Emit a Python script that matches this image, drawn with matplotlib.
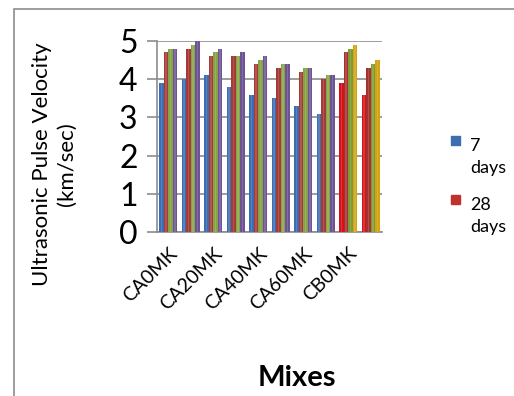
import numpy as np
import matplotlib
matplotlib.use('Agg')
import matplotlib.pyplot as plt
from matplotlib.patches import Rectangle

plt.rcParams['font.family'] = ['Lato', 'DejaVu Sans']

# Ultrasonic pulse velocity (km/sec) per mix and curing age
mixes = ['CA0MK', 'CA10MK', 'CA20MK', 'CA30MK', 'CA40MK',
         'CA50MK', 'CA60MK', 'CA70MK', 'CB0MK', 'CB20MK']
ages = ['7 days', '28 days', '56 days', '90 days']
upv_7 = [3.9, 4.0, 4.1, 3.8, 3.6, 3.5, 3.3, 3.1, 3.9, 3.6]
upv_28 = [4.7, 4.8, 4.6, 4.6, 4.4, 4.3, 4.2, 4.0, 4.7, 4.3]
upv_56 = [4.8, 4.9, 4.7, 4.6, 4.5, 4.4, 4.3, 4.1, 4.8, 4.4]
upv_90 = [4.8, 5.0, 4.8, 4.7, 4.6, 4.4, 4.3, 4.1, 4.9, 4.5]
series = [upv_7, upv_28, upv_56, upv_90]

ca_colors = ['#3b6db0', '#a33a37', '#86a446', '#6b5394']
cb_colors = ['#d3121b', '#a5302e', '#7d9a33', '#d2a312']

fig = plt.figure(figsize=(5.14, 3.96), dpi=100)
ax = fig.add_axes([0.3054, 0.4141, 0.4377, 0.4823])

x = np.arange(len(mixes))
width = 0.2
for i, vals in enumerate(series):
    colors = [cb_colors[i] if m.startswith('CB') else ca_colors[i] for m in mixes]
    pos = x + (i - 1.5) * width
    ax.bar(pos, vals, width * 1.02, color=colors, zorder=3)
    # lighter highlight down the middle of each bar
    ax.bar(pos, vals, width * 0.35, color='white', alpha=0.15, zorder=4)

ax.set_xlim(-0.5, len(mixes) - 0.5)
ax.set_ylim(0, 5)
ax.set_yticks(range(0, 6))
ax.yaxis.grid(True, color='#8c8c8c', lw=1.2, zorder=0)
ax.set_axisbelow(True)
for s in ['top', 'right']:
    ax.spines[s].set_visible(False)
for s in ['left', 'bottom']:
    ax.spines[s].set_color('#8c8c8c')
    ax.spines[s].set_linewidth(1.2)
ax.tick_params(axis='y', length=7, width=1.2, color='#8c8c8c', pad=7, labelsize=23)
ax.tick_params(axis='x', length=0, pad=9)

ax.set_xticks(x)
ax.set_xticklabels([m if k % 2 == 0 else '' for k, m in enumerate(mixes)],
                   rotation=45, ha='right', rotation_mode='anchor', fontsize=14)

fig.text(0.105, 0.585, 'Ultrasonic Pulse Velocity\n(km/sec)', rotation=90,
         ha='center', va='center', fontsize=16, linespacing=1.3)
fig.text(0.578, 0.045, 'Mixes', ha='center', va='center',
         fontsize=21, fontweight='bold')

# legend entries for the first two ages
for j, ytop in enumerate([136, 195]):
    fig.patches.append(Rectangle((451 / 514, 1 - (ytop + 9) / 396), 9 / 514, 9 / 396,
                                 transform=fig.transFigure, color=ca_colors[j] if j == 0 else '#c0322f'))
    fig.text(470 / 514, 1 - (ytop + 2) / 396, ages[j].replace(' ', '\n'),
             ha='left', va='top', fontsize=13, linespacing=1.45,
             transform=fig.transFigure)

# chart area frame
fig.patches.append(Rectangle((14 / 514, -0.1), 1.2, 1.1 - 9 / 396,
                             transform=fig.transFigure, fill=False,
                             edgecolor='#8c8c8c', lw=1.2))

fig.savefig('out.png', dpi=100)
